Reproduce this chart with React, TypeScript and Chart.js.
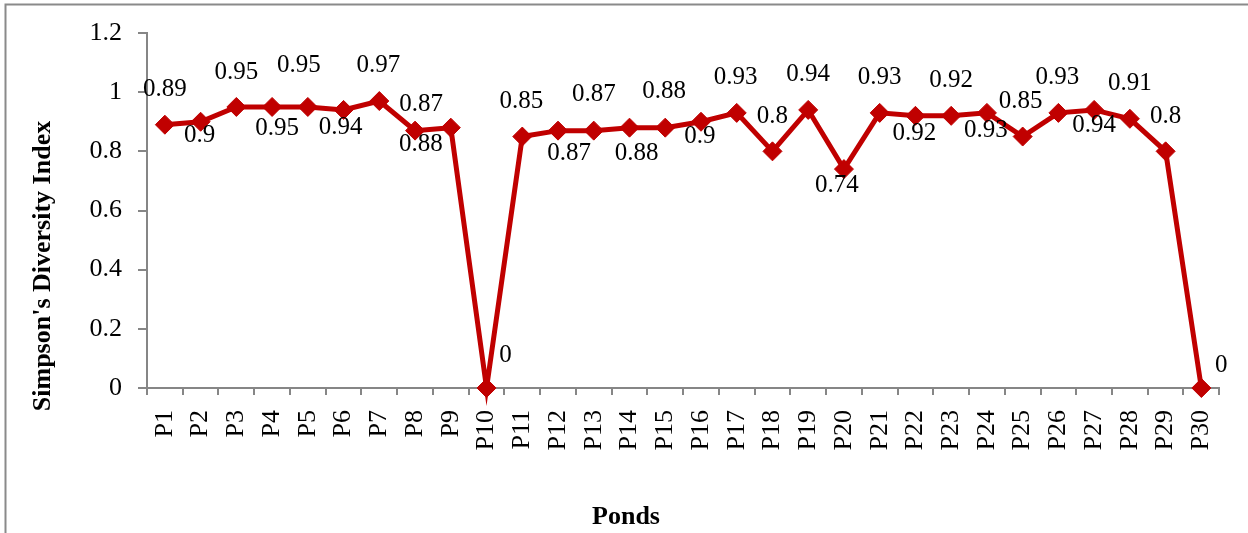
import React, { useEffect, useRef } from "react";
import { Chart, registerables } from "chart.js";

Chart.register(...registerables);

const ponds = [
  "P1", "P2", "P3", "P4", "P5", "P6", "P7", "P8", "P9", "P10",
  "P11", "P12", "P13", "P14", "P15", "P16", "P17", "P18", "P19", "P20",
  "P21", "P22", "P23", "P24", "P25", "P26", "P27", "P28", "P29", "P30",
];

const simpsonIndex = [
  0.89, 0.9, 0.95, 0.95, 0.95, 0.94, 0.97, 0.87, 0.88, 0,
  0.85, 0.87, 0.87, 0.88, 0.88, 0.9, 0.93, 0.8, 0.94, 0.74,
  0.93, 0.92, 0.92, 0.93, 0.85, 0.93, 0.94, 0.91, 0.8, 0,
];

const yTicks = [0, 0.2, 0.4, 0.6, 0.8, 1, 1.2];

const yTitle = "Simpson's Diversity Index";
const xTitle = "Ponds";

// label placement relative to each point (dx, dy in px) — styling only
const labelOffsets: [number, number][] = [
  [0, -35], [-1, 14], [0, -35], [5, 21], [-9, -42], [-3, 18], [-1, -36], [6, -26], [-30, 17], [19, -33],
  [-1, -35], [11, 23], [0, -36], [7, 26], [-1, -36], [-1, 15], [-1, -35], [0, -35], [0, -35], [-7, 16],
  [0, -35], [-1, 18], [0, -35], [-1, 18], [-2, -35], [-1, -35], [0, 16], [0, -35], [0, -35], [20, -23],
];

const SERIF = "'Liberation Serif', 'Times New Roman', Times, serif";
const RED = "#C00000";
const AXIS = "#868686";

const decorPlugin = {
  id: "decor",
  beforeDraw(chart: any) {
    const ctx = chart.ctx;
    ctx.save();
    ctx.fillStyle = "#ffffff";
    ctx.fillRect(0, 0, chart.width, chart.height);
    ctx.strokeStyle = "#8a8a8a";
    ctx.lineWidth = 2;
    ctx.beginPath();
    ctx.moveTo(5.5, chart.height + 2);
    ctx.lineTo(5.5, 4.5);
    ctx.lineTo(chart.width + 2, 4.5);
    ctx.stroke();
    ctx.restore();
  },
  afterDraw(chart: any) {
    const ctx = chart.ctx;
    ctx.save();
    ctx.fillStyle = "#000";
    ctx.font = `bold 26px ${SERIF}`;
    ctx.textAlign = "center";
    ctx.textBaseline = "middle";
    ctx.translate(43, 266);
    ctx.rotate(-Math.PI / 2);
    ctx.fillText(yTitle, 0, 0);
    ctx.restore();

    ctx.save();
    ctx.fillStyle = "#000";
    ctx.font = `bold 26px ${SERIF}`;
    ctx.textAlign = "center";
    ctx.textBaseline = "middle";
    ctx.fillText(xTitle, chart.width / 2 + 2, 517);
    ctx.restore();
  },
  afterDatasetsDraw(chart: any) {
    const meta = chart.getDatasetMeta(0);
    const ctx = chart.ctx;
    ctx.save();
    ctx.font = `25px ${SERIF}`;
    ctx.fillStyle = "#000";
    ctx.textAlign = "center";
    ctx.textBaseline = "middle";
    meta.data.forEach((pt: any, i: number) => {
      const [dx, dy] = labelOffsets[i];
      ctx.fillText(String(simpsonIndex[i]), pt.x + dx, pt.y + dy);
    });
    ctx.restore();
  },
};

export default function App() {
  const ref = useRef<HTMLCanvasElement | null>(null);

  useEffect(() => {
    if (!ref.current) return;
    const chart = new Chart(ref.current, {
      type: "line",
      data: {
        labels: ponds,
        datasets: [
          {
            data: simpsonIndex,
            borderColor: RED,
            backgroundColor: RED,
            borderWidth: 5,
            pointStyle: "rectRot",
            pointRadius: 9.5,
            pointBorderWidth: 1,
            pointBackgroundColor: RED,
            pointBorderColor: RED,
            tension: 0,
            clip: false,
          } as any,
        ],
      },
      options: {
        responsive: false,
        animation: false,
        devicePixelRatio: 1,
        layout: { padding: { top: 33, right: 26, left: 0, bottom: 0 } },
        plugins: {
          legend: { display: false },
          tooltip: { enabled: false },
          title: { display: false },
        },
        scales: {
          x: {
            type: "category",
            offset: true,
            grid: {
              offset: true,
              drawOnChartArea: false,
              drawTicks: true,
              tickLength: 7,
              color: AXIS,
              lineWidth: 2,
            },
            border: { color: AXIS, width: 2 },
            ticks: {
              autoSkip: false,
              minRotation: 90,
              maxRotation: 90,
              padding: 15,
              color: "#000",
              font: { family: SERIF, size: 26 },
            },
            afterFit: (s: any) => {
              s.height = 145;
            },
          },
          y: {
            min: 0,
            max: 1.2,
            afterBuildTicks: (s: any) => {
              s.ticks = yTicks.map((v) => ({ value: v }));
            },
            grid: {
              drawOnChartArea: false,
              drawTicks: true,
              tickLength: 9,
              color: AXIS,
              lineWidth: 2,
            },
            border: { color: AXIS, width: 2 },
            ticks: {
              padding: 16,
              color: "#000",
              font: { family: SERIF, size: 26 },
              callback: (v: any) => String(Number(v)),
            },
            afterFit: (s: any) => {
              s.width = 147;
            },
          },
        },
      },
      plugins: [decorPlugin],
    });
    return () => chart.destroy();
  }, []);

  return (
    <div style={{ position: "absolute", left: 0, top: 0, width: 1248, height: 533 }}>
      <canvas ref={ref} width={1248} height={533} style={{ display: "block", width: 1248, height: 533 }} />
    </div>
  );
}
